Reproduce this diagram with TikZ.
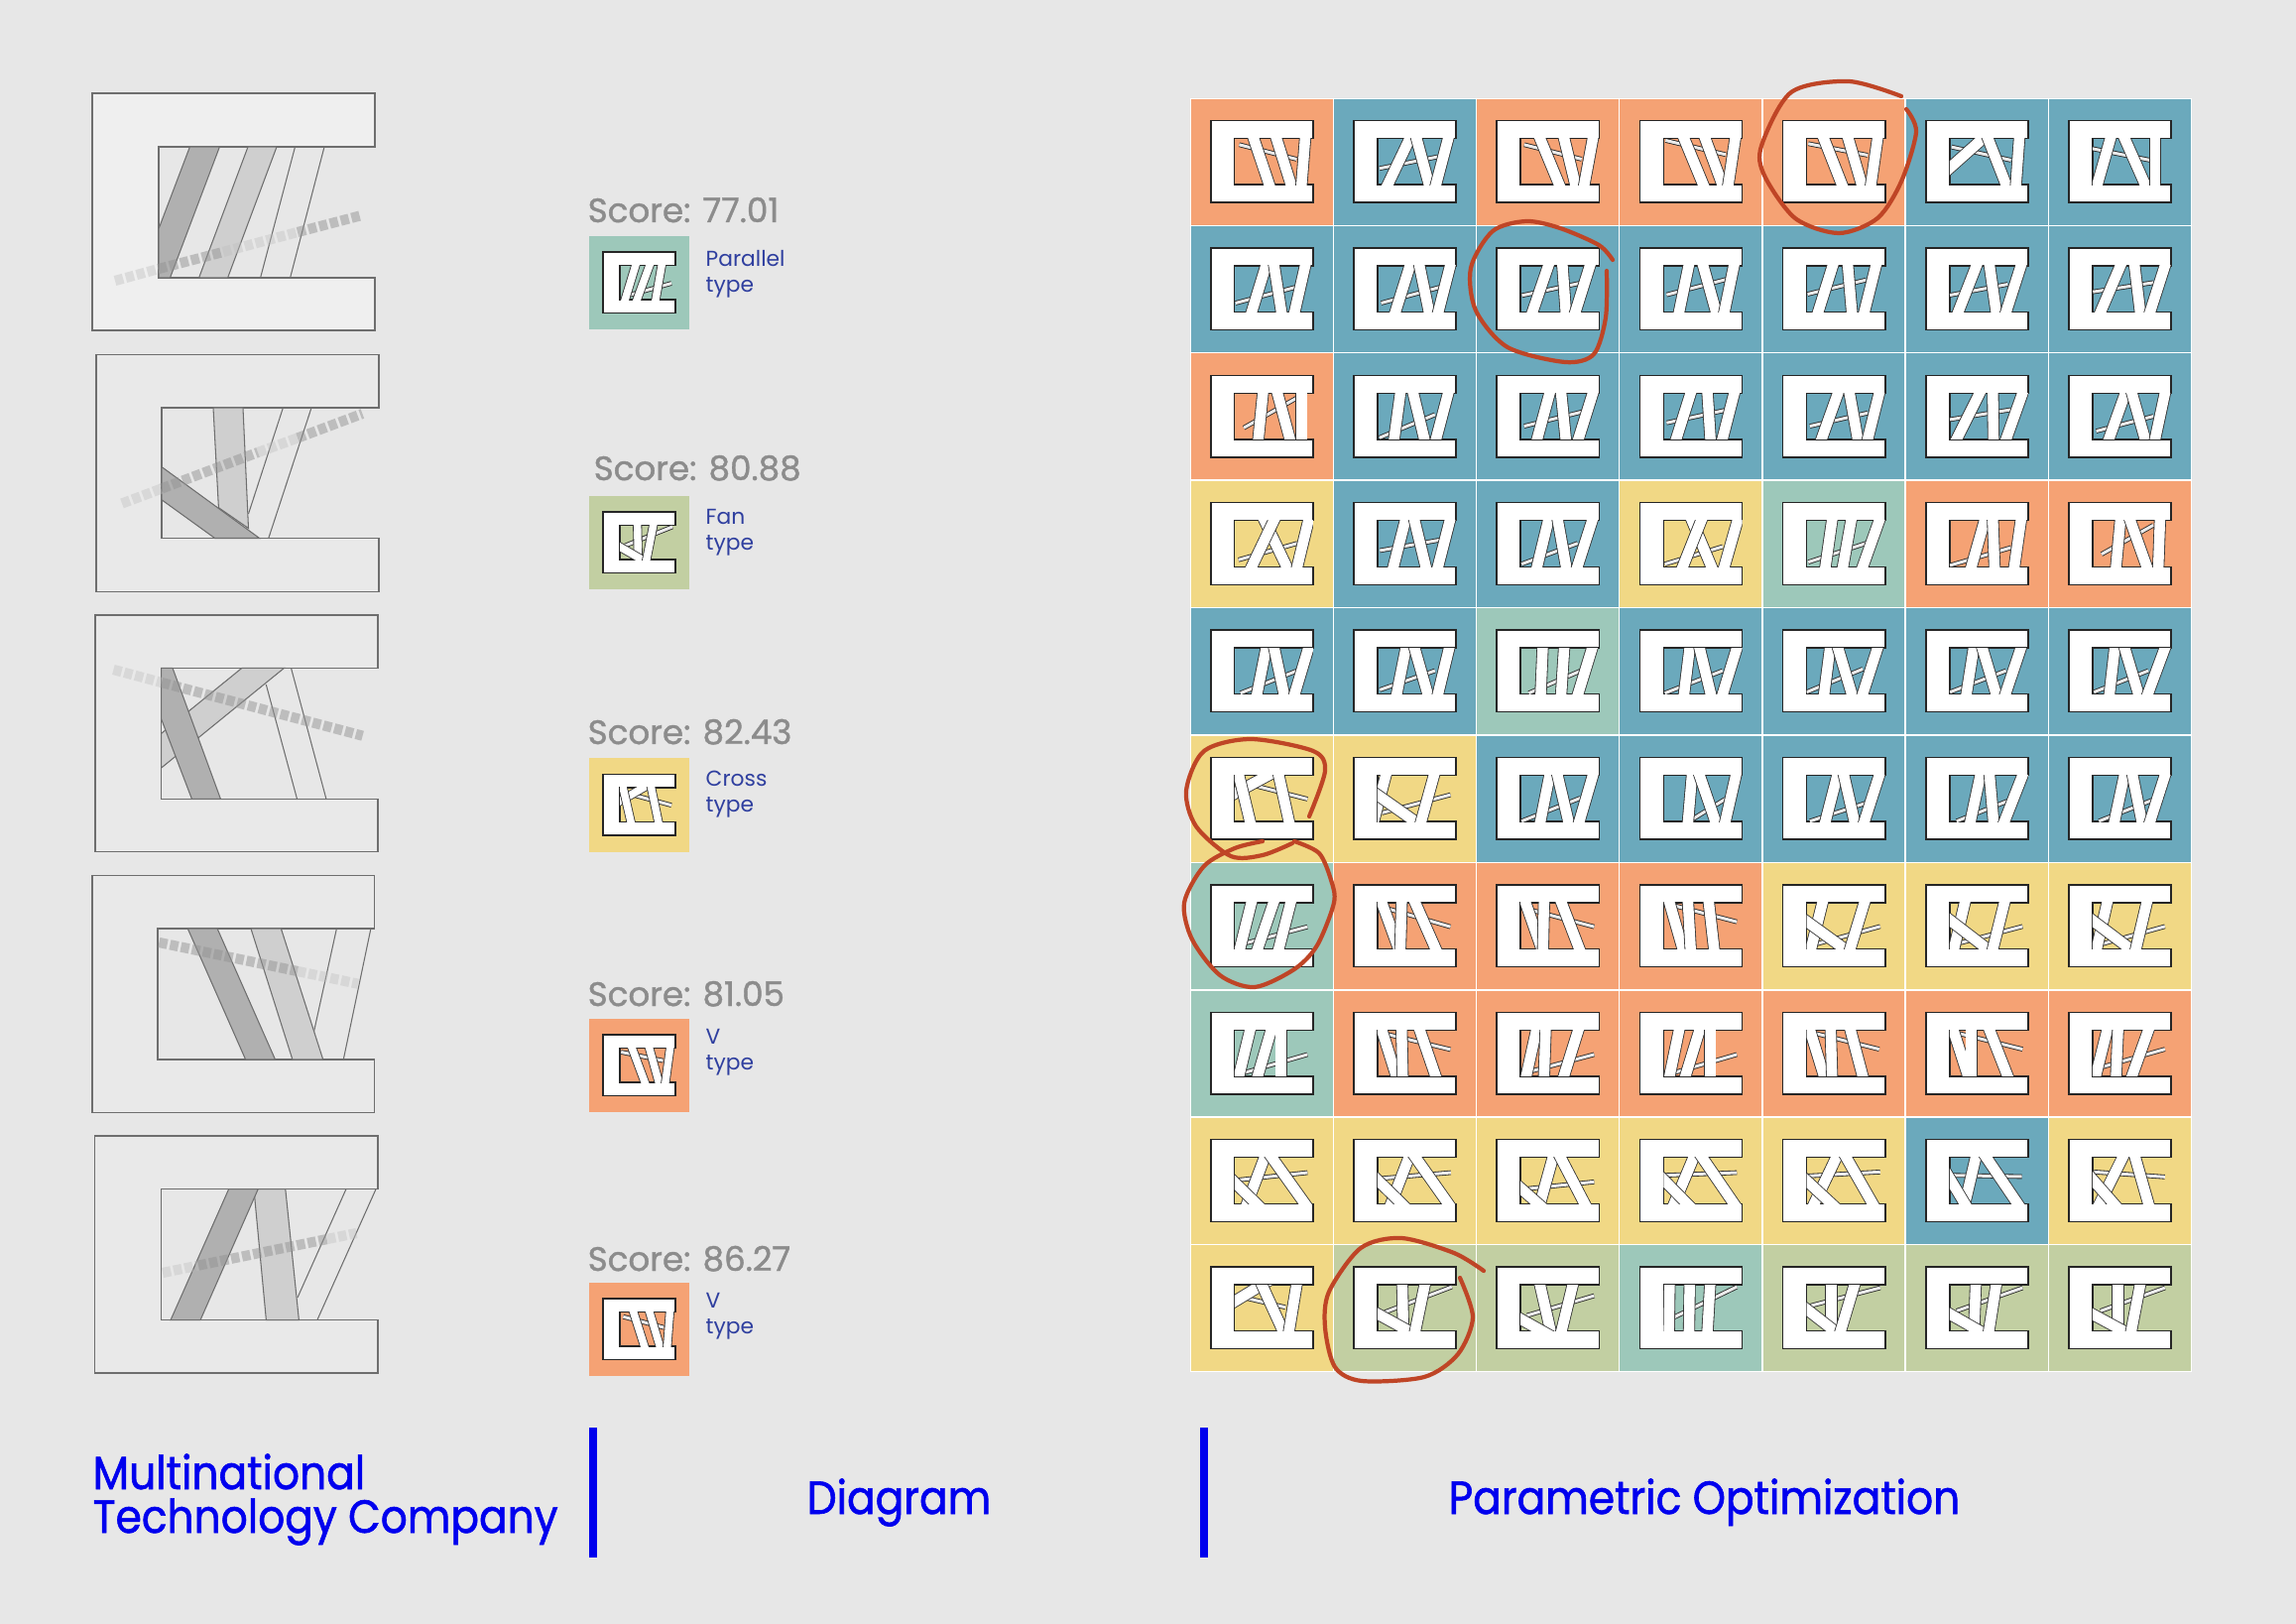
\documentclass[tikz,border=0pt]{standalone}
\usepackage{fontspec}
\setmainfont{Poppins}
\newfontfamily\titlefont[FakeStretch=0.905,FakeBold=1.3]{Poppins}
\newfontfamily\scorefont[FakeBold=1.1]{Poppins}

\definecolor{pagegray}{HTML}{E7E7E7}
\definecolor{cellorange}{HTML}{F5A274}
\definecolor{cellblue}{HTML}{6BA9BC}
\definecolor{cellyellow}{HTML}{F1D885}
\definecolor{cellsea}{HTML}{9DC8BA}
\definecolor{cellolive}{HTML}{C2CFA2}
\definecolor{markred}{HTML}{BF4526}
\definecolor{titleblue}{HTML}{0000EE}
\definecolor{typeblue}{HTML}{2F3F9F}
\definecolor{scoregray}{HTML}{8C8C8C}
\definecolor{wallgray}{HTML}{6E6E6E}

\tikzset{
	% Thumbnail parts
	thumbbox/.style={fill=white, draw=black!85, line width=.42pt},
	thumbband/.style={draw=black!80, line width=.24pt, double=white},
	thumbbeam/.style={draw=black!85, line width=.24pt, double=white!92!black, double distance=.85pt},
	% Large plans
	planwall/.style={draw=wallgray, line width=.4pt, fill=#1},
	planwall/.default=white!30!pagegray,
	banddark/.style={draw=wallgray, line width=.3pt, fill=black!31},
	bandmid/.style={draw=wallgray, line width=.3pt, fill=black!19},
	bandpale/.style={draw=wallgray, line width=.3pt},
	beamstrong/.style={draw=black!42, opacity=.5, line width=2.9pt, dash pattern=on 2.4pt off .8pt},
	beamfaint/.style={draw=black!25, opacity=.4, line width=2.9pt, dash pattern=on 2.4pt off .8pt},
	% Labels
	scorelabel/.style={font=\scorefont\fontsize{9.7}{11}\selectfont, text=scoregray, anchor=base west, inner sep=0pt},
	typelabel/.style={font=\fontsize{6.2}{7.4}\selectfont, text=typeblue, anchor=north west, inner sep=0pt, align=left},
	sectiontitle/.style={font=\titlefont\fontsize{13.3}{14}\selectfont, text=titleblue, anchor=base west, inner sep=0pt, align=left},
	divider/.style={draw=blue!93!black, line width=2.1pt},
	handmark/.style={draw=markred, line width=1.2pt, line cap=round}
}

% x, y, width, height, colour, beam path, bands (top/bottom)
\newcommand{\thumb}[7]{%
	\fill[#5] (#1,#2) rectangle ++(#3,#4);
	\pgfmathsetmacro\ux{.724*#3/310*.01}
	\pgfmathsetmacro\uy{.653*#4/248*.01}
	\pgfmathsetmacro\bandw{#3*.021}
	\begin{scope}[shift={({#1+.14*#3},{#2+.172*#4})}, x=\ux cm, y=-\uy cm]
		\draw[thumbbox] (0,0) -- (310,0) -- (310,54) -- (72,54) -- (72,194) -- (310,194) -- (310,248) -- (0,248) -- cycle;
		\begin{scope}
			\clip (72,54) rectangle (310,194);
			\draw[thumbbeam] #6;
			\foreach \ta/\ba in {#7} {
				\draw[thumbband, double distance=\bandw pt] ({\ta-.25*(\ba-\ta)},19) -- ({\ba+.25*(\ba-\ta)},229);
			}
		\end{scope}
	\end{scope}
}
% column, row, colour, beam path, bands
\newcommand{\gridcell}[5]{%
	\pgfmathsetmacro\cx{1200.8+144.2*(#1-1)}
	\pgfmathsetmacro\cy{99.7+128.4*(#2-1)}
	\thumb{\cx}{\cy}{142.7}{126.9}{#3}{#4}{#5}
}

\begin{document}
\begin{tikzpicture}[x=.01cm, y=-.01cm]
	\fill[pagegray] (0,0) rectangle (2315,1637);
	\useasboundingbox (0,0) rectangle (2315,1637);

	% ==============================================================================
	% 1. LARGE PLANS
	% ==============================================================================
	\draw[planwall=white!35!pagegray] (93,94) -- (378,94) -- (378,148) -- (160,148) -- (160,280) -- (378,280) -- (378,333) -- (93,333) -- cycle;
	\draw[bandpale] (297.5,148) -- (262.6,280) (327,148) -- (292.6,280);
	\draw[bandmid] (250,148) -- (279,148) -- (229.6,280) -- (200.6,280) -- cycle;
	\draw[banddark] (191.4,148) -- (221.4,148) -- (171.5,280) -- (160,280) -- (160,230.7) -- cycle;
	\draw[beamfaint] (116,283) -- (160,271);
	\draw[beamstrong] (160,271) -- (225,254);
	\draw[beamfaint] (225,254) -- (300,234);
	\draw[beamstrong] (300,234) -- (363,217.5);

	\draw[planwall=white!8!pagegray] (96.8,357.6) -- (381.8,357.6) -- (381.8,411) -- (163,411) -- (163,542.5) -- (381.8,542.5) -- (381.8,596.5) -- (96.8,596.5) -- cycle;
	\draw[bandpale] (285.4,411) -- (250.5,518) (314,411) -- (270.8,542.5);
	\draw[bandmid] (215,411) -- (245,411) -- (250.5,532.5) -- (220.4,511.7) -- cycle;
	\draw[banddark] (163,470.6) -- (261.6,542.5) -- (216.6,542.5) -- (163,503.8) -- cycle;
	\draw[beamfaint] (123,507.5) -- (163,492.5);
	\draw[beamstrong] (163,492.5) -- (260,456);
	\draw[beamfaint] (260,456) -- (300,441.5);
	\draw[beamstrong] (300,441.5) -- (365.4,417);

	\draw[planwall=white!8!pagegray] (96,620) -- (381,620) -- (381,673.3) -- (162.7,673.3) -- (162.7,805.3) -- (381,805.3) -- (381,858.7) -- (96,858.7) -- cycle;
	\draw[bandpale] (268.3,690) -- (299.5,805.3) (293.5,673.3) -- (328.9,805.3);
	\draw[bandmid] (244,673.3) -- (286.6,673.3) -- (162.7,774) -- (162.7,739.3) -- cycle;
	\draw[banddark] (162.7,673.3) -- (174,673.3) -- (222.4,805.3) -- (193.4,805.3) -- (162.7,725) -- cycle;
	\draw[beamfaint] (114.4,675) -- (163,688);
	\draw[beamstrong] (163,688) -- (365.6,741.7);

	\draw[planwall=white!8!pagegray] (92.9,882.7) -- (377.6,882.7) -- (377.6,936) -- (159,936) -- (159,1068) -- (377.6,1068) -- (377.6,1121.3) -- (92.9,1121.3) -- cycle;
	\draw[bandpale] (339.4,936) -- (316.5,1040) (373.9,936) -- (346.3,1068);
	\draw[bandmid] (253,936) -- (283.4,936) -- (325.7,1068) -- (294.9,1068) -- cycle;
	\draw[banddark] (189.3,936) -- (219.1,936) -- (277.5,1068) -- (247.6,1068) -- cycle;
	\draw[beamstrong] (160.4,950) -- (300,979);
	\draw[beamfaint] (300,979) -- (361,991.7);

	\draw[planwall=white!8!pagegray] (95.4,1145) -- (380.9,1145) -- (380.9,1198.7) -- (162.3,1198.7) -- (162.3,1330.7) -- (380.9,1330.7) -- (380.9,1384) -- (95.4,1384) -- cycle;
	\draw[bandpale] (348.9,1198.7) -- (300,1308) (379,1198.7) -- (319.8,1330.7);
	\draw[bandmid] (256,1198.7) -- (287.8,1198.7) -- (301.4,1330.7) -- (268.4,1330.7) -- cycle;
	\draw[banddark] (230.6,1198.7) -- (260.2,1198.7) -- (202,1330.7) -- (172,1330.7) -- cycle;
	\draw[beamfaint] (164,1283) -- (200,1275.6);
	\draw[beamstrong] (200,1275.6) -- (330,1249);
	\draw[beamfaint] (330,1249) -- (359.5,1243);

	% ==============================================================================
	% 2. SCORES AND SWATCHES
	% ==============================================================================
	\node[scorelabel] (score1) at (592,224) {Score: 77.01};
	\thumb{594}{238}{101}{94}{cellsea}{(85,182) -- (293,127)}{139/94,199/145,251/225}
	\node[typelabel] (type1) at (711,252) {Parallel\\type};

	\node[scorelabel] (score2) at (598,484) {Score: 80.88};
	\thumb{594}{500}{101}{94}{cellolive}{(94,137) -- (297,60)}{147/150,-89/167,215/186}
	\node[typelabel] (type2) at (711,513) {Fan\\type};

	\node[scorelabel] (score3) at (592,750) {Score: 82.43};
	\thumb{594}{764}{101}{95}{cellyellow}{(85,73) -- (293,126)}{174/-85,85/119,206/237}
	\node[typelabel] (type3) at (711,776) {Cross\\type};

	\node[scorelabel] (score4) at (592,1014) {Score: 81.05};
	\thumb{594}{1027}{101}{94}{cellorange}{(77,70) -- (257,105)}{124/179,198/239,287/267}
	\node[typelabel] (type4) at (711,1037) {V\\type};

	\node[scorelabel] (score5) at (592,1281) {Score: 86.27};
	\thumb{594}{1293}{101}{94}{cellorange}{(86,73) -- (260,117)}{130/177,199/243,286/275}
	\node[typelabel] (type5) at (711,1303) {V\\type};

	% ==============================================================================
	% 3. OPTIMIZATION GRID
	% ==============================================================================
	\fill[white] (1199.6,98.6) rectangle (2210.2,1383.4);

	\gridcell{1}{1}{cellorange}{(86,73) -- (260,117)}{130/177,199/243,286/275}
	\gridcell{2}{1}{cellblue}{(78,145) -- (253,110)}{170/103,190/228,286/249}
	\gridcell{3}{1}{cellorange}{(83,73) -- (257,117)}{131/189,204/238,291/265}
	\gridcell{4}{1}{cellorange}{(78,60) -- (260,103)}{134/192,198/250,289/268}
	\gridcell{5}{1}{cellorange}{(77,70) -- (257,105)}{124/179,198/239,287/267}
	\gridcell{6}{1}{cellblue}{(78,80) -- (258,120)}{173/16,188/243,283/273}
	\gridcell{7}{1}{cellblue}{(71,85) -- (246,120)}{126/86,169/231,261/261}

	\gridcell{1}{2}{cellblue}{(75,167) -- (257,119)}{167/124,192/214,286/254}
	\gridcell{2}{2}{cellblue}{(83,167) -- (261,119)}{170/126,199/228,292/256}
	\gridcell{3}{2}{cellblue}{(76,144) -- (265,104)}{156/108,199/209,282/238}
	\gridcell{4}{2}{cellblue}{(81,142) -- (267,94)}{148/119,192/231,285/256}
	\gridcell{5}{2}{cellblue}{(75,140) -- (252,97)}{151/107,197/209,282/247}
	\gridcell{6}{2}{cellblue}{(73,143) -- (248,110)}{153/98,193/213,288/243}
	\gridcell{7}{2}{cellblue}{(73,133) -- (256,105)}{156/96,199/216,291/246}

	\gridcell{1}{3}{cellorange}{(100,159) -- (260,69)}{158/144,202/240,275/275}
	\gridcell{2}{3}{cellblue}{(78,189) -- (246,119)}{141/122,180/214,286/249}
	\gridcell{3}{3}{cellblue}{(83,154) -- (265,109)}{160/122,195/209,291/247}
	\gridcell{4}{3}{cellblue}{(81,144) -- (267,104)}{154/110,205/214,286/250}
	\gridcell{5}{3}{cellblue}{(82,154) -- (257,114)}{167/117,202/227,292/257}
	\gridcell{6}{3}{cellblue}{(73,134) -- (258,104)}{163/93,203/205,293/243}
	\gridcell{7}{3}{cellblue}{(83,169) -- (256,124)}{171/121,191/231,291/261}

	\gridcell{1}{4}{cellyellow}{(84,173) -- (262,123)}{163/230,191/124,296/262}
	\gridcell{2}{4}{cellblue}{(79,145) -- (260,113)}{156/120,184/218,291/255}
	\gridcell{3}{4}{cellblue}{(75,186) -- (245,123)}{156/122,185/210,289/244}
	\gridcell{4}{4}{cellyellow}{(76,186) -- (251,133)}{158/217,186/130,296/256}
	\gridcell{5}{4}{cellsea}{(77,180) -- (252,123)}{149/129,207/182,292/242}
	\gridcell{6}{4}{cellorange}{(73,190) -- (258,136)}{178/138,203/208,288/268}
	\gridcell{7}{4}{cellorange}{(99,156) -- (256,68)}{156/143,186/236,276/271}

	\gridcell{1}{5}{cellblue}{(90,191) -- (262,123)}{168/140,192/222,296/254}
	\gridcell{2}{5}{cellblue}{(79,181) -- (246,123)}{158/130,184/224,289/255}
	\gridcell{3}{5}{cellsea}{(97,191) -- (255,123)}{139/133,204/195,289/246}
	\gridcell{4}{5}{cellblue}{(76,191) -- (251,123)}{151/134,181/215,294/251}
	\gridcell{5}{5}{cellblue}{(72,188) -- (242,118)}{143/125,167/209,287/242}
	\gridcell{6}{5}{cellblue}{(73,188) -- (243,123)}{145/123,171/213,288/241}
	\gridcell{7}{5}{cellblue}{(76,188) -- (241,123)}{139/123,169/211,291/239}

	\gridcell{1}{6}{cellyellow}{(85,73) -- (293,126)}{174/-85,85/119,206/237}
	\gridcell{2}{6}{cellyellow}{(85,168) -- (293,113)}{97/60,-13/186,243/204}
	\gridcell{3}{6}{cellblue}{(75,193) -- (253,123)}{160/132,184/217,291/250}
	\gridcell{4}{6}{cellblue}{(158,188) -- (259,126)}{158/146,181/229,291/259}
	\gridcell{5}{6}{cellblue}{(82,193) -- (252,138)}{165/129,185/217,292/247}
	\gridcell{6}{6}{cellblue}{(93,193) -- (258,128)}{165/135,193/205,293/238}
	\gridcell{7}{6}{cellblue}{(91,193) -- (256,128)}{168/138,193/221,291/246}

	\gridcell{1}{7}{cellsea}{(85,182) -- (293,127)}{123/88,190/142,242/206}
	\gridcell{2}{7}{cellorange}{(85,67) -- (293,127)}{85/136,145/141,186/248}
	\gridcell{3}{7}{cellorange}{(87,72) -- (295,127)}{87/136,143/140,196/250}
	\gridcell{4}{7}{cellorange}{(81,57) -- (294,112)}{90/130,146/154,209/225}
	\gridcell{5}{7}{cellyellow}{(87,183) -- (295,126)}{120/85,-6/187,247/204}
	\gridcell{6}{7}{cellyellow}{(88,180) -- (293,126)}{118/85,4/186,238/203}
	\gridcell{7}{7}{cellyellow}{(86,183) -- (291,126)}{116/84,0/186,236/203}

	\gridcell{1}{8}{cellsea}{(85,188) -- (293,128)}{119/85,183/142,213/213}
	\gridcell{2}{8}{cellorange}{(85,63) -- (293,113)}{85/129,145/148,200/248}
	\gridcell{3}{8}{cellorange}{(87,183) -- (295,128)}{120/89,148/143,247/203}
	\gridcell{4}{8}{cellorange}{(87,188) -- (294,128)}{119/90,181/138,213/213}
	\gridcell{5}{8}{cellorange}{(82,60) -- (292,112)}{82/125,145/149,205/242}
	\gridcell{6}{8}{cellorange}{(83,60) -- (293,112)}{83/128,138/138,193/248}
	\gridcell{7}{8}{cellorange}{(86,170) -- (291,112)}{116/81,149/143,241/191}

	\gridcell{1}{9}{cellyellow}{(76,123) -- (293,100)}{163/110,185/285,-5/138}
	\gridcell{2}{9}{cellyellow}{(77,118) -- (294,100)}{167/113,187/286,2/145}
	\gridcell{3}{9}{cellyellow}{(80,150) -- (295,128)}{170/131,193/266,-33/125}
	\gridcell{4}{9}{cellyellow}{(76,108) -- (294,100)}{163/104,189/285,6/143}
	\gridcell{5}{9}{cellyellow}{(77,110) -- (295,98)}{162/95,192/272,-4/147}
	\gridcell{6}{9}{cellblue}{(78,108) -- (291,112)}{151/118,183/278,34/118}
	\gridcell{7}{9}{cellyellow}{(76,98) -- (291,113)}{163/93,201/241,13/136}

	\gridcell{1}{10}{cellyellow}{(76,87) -- (226,122)}{155/-76,155/219,260/237}
	\gridcell{2}{10}{cellolive}{(94,137) -- (297,60)}{147/150,-89/167,215/186}
	\gridcell{3}{10}{cellolive}{(91,147) -- (295,87)}{131/163,-114/137,230/196}
	\gridcell{4}{10}{cellsea}{(104,152) -- (294,60)}{90/88,151/149,213/205}
	\gridcell{5}{10}{cellolive}{(82,118) -- (295,63)}{147/147,-23/157,217/175}
	\gridcell{6}{10}{cellolive}{(93,133) -- (293,63)}{151/146,-83/163,213/191}
	\gridcell{7}{10}{cellolive}{(96,133) -- (291,63)}{149/149,-94/166,216/189}

	% ==============================================================================
	% 4. HAND-DRAWN MARKS
	% ==============================================================================
	\draw[handmark] plot[smooth] coordinates {(1917,97) (1864,82) (1806,93) (1776,147) (1779,177) (1810,220) (1854,235) (1893,220) (1917,183) (1932,133) (1922,110)};
	\draw[handmark] plot[smooth] coordinates {(1626,262) (1612,247) (1573,230) (1539,223) (1505,233) (1483,270) (1488,313) (1520,350) (1578,365) (1607,357) (1619,320) (1620,273)};
	\draw[handmark] plot[smooth] coordinates {(1320,823) (1336,777) (1324,757) (1261,745) (1214,757) (1196,797) (1206,833) (1241,863) (1273,862) (1303,850)};
	\draw[handmark] plot[smooth] coordinates {(1305,848) (1330,860) (1342,887) (1345,910) (1328,953) (1305,977) (1265,995) (1230,983) (1202,947) (1194,910) (1214,873) (1245,855) (1273,848)};
	\draw[handmark] plot[smooth] coordinates {(1496,1281) (1466,1263) (1413,1248) (1372,1258) (1340,1302) (1336,1338) (1346,1378) (1373,1392) (1436,1388)  (1470,1365) (1485,1328) (1472,1288)};

	% ==============================================================================
	% 5. FOOTER
	% ==============================================================================
	\node[sectiontitle] (company1) at (93,1501) {Multinational};
	\node[sectiontitle] (company2) at (93,1545) {Technology Company};
	\node[sectiontitle] (diagram) at (813,1526) {Diagram};
	\node[sectiontitle] (optimization) at (1460,1526) {Parametric Optimization};
	\draw[divider] (598,1439) -- (598,1570);
	\draw[divider] (1214,1439) -- (1214,1570);
\end{tikzpicture}
\end{document}
